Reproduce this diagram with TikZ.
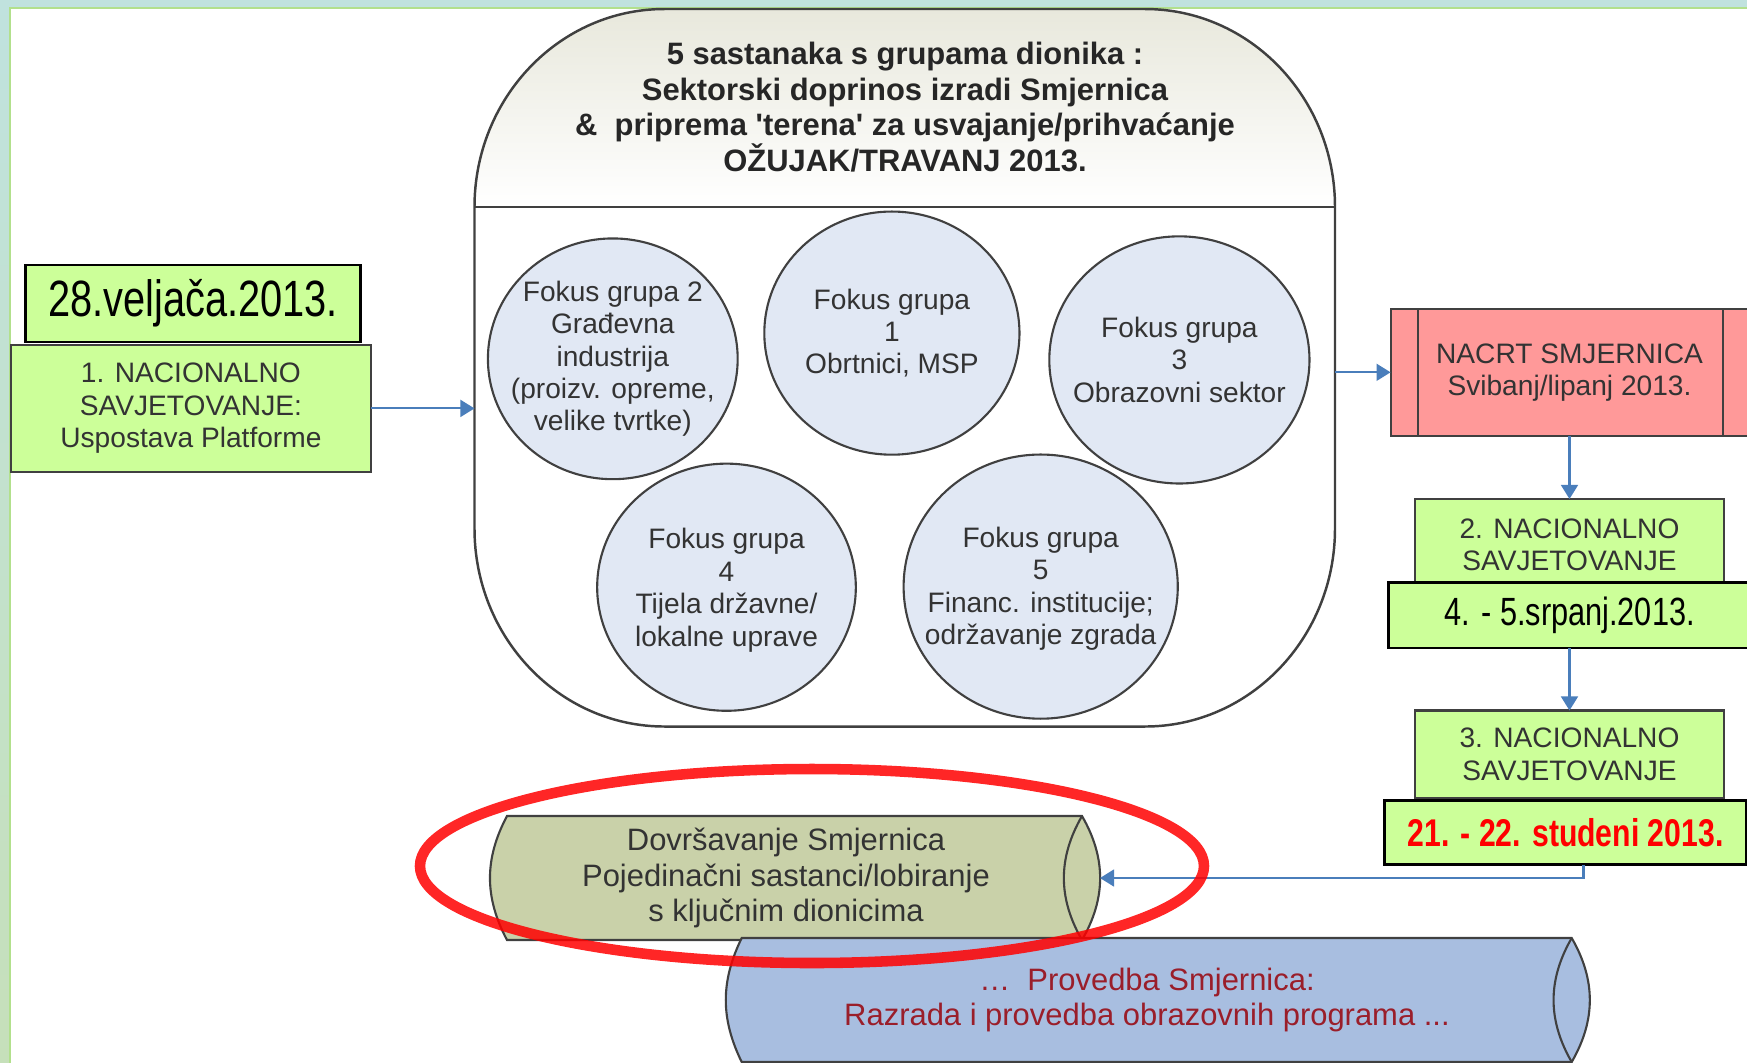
\documentclass[tikz,border=0pt]{standalone}
\usepackage{fontspec}
\setmainfont{Liberation Sans}
\newfontfamily\narrowfont[FakeStretch=0.78]{Liberation Sans}
\usepackage{tikz}
\usepackage{xcolor}
\usetikzlibrary{shapes.geometric,arrows.meta}

\definecolor{limebox}{HTML}{CCFF99}
\definecolor{nacrtred}{HTML}{FF9999}
\definecolor{fokusblue}{HTML}{E1E8F4}
\definecolor{olivecyl}{HTML}{C9D1A9}
\definecolor{bluecyl}{HTML}{A8BEE0}
\definecolor{darkwine}{HTML}{9A1E2A}
\definecolor{flowblue}{HTML}{4A7EBB}
\definecolor{hdrgrey}{HTML}{E8E8DC}
\definecolor{frameteal}{HTML}{C0E2DE}
\definecolor{framegreen}{HTML}{C6E0BA}
\definecolor{frameline}{HTML}{B2E08C}
\definecolor{edgegrey}{HTML}{404040}
\definecolor{txtgrey}{HTML}{333333}

\tikzstyle{fokus} = [ellipse, draw=edgegrey, line width=0.6pt, fill=fokusblue, inner sep=0pt]
\tikzstyle{ftext} = [align=center, text=txtgrey, font=\fontsize{8}{9.2}\selectfont]
\tikzstyle{nacbox} = [rectangle, draw=edgegrey, line width=0.6pt, align=center, text=txtgrey, font=\fontsize{8}{9.2}\selectfont]
\tikzstyle{datebox} = [rectangle, draw=black, line width=0.8pt, fill=limebox, align=center]
\tikzstyle{cyltext} = [align=center, text=txtgrey, font=\fontsize{8.8}{10.1}\selectfont]
\tikzstyle{flow} = [draw=flowblue, line width=0.6pt, -{Triangle[length=4pt,width=4.8pt]}]

\begin{document}
\begin{tikzpicture}[x=0.01cm, y=0.01cm]
\tikzset{every node/.append style={outer sep=0pt}}
\useasboundingbox (0,0) rectangle (1747,-1062);
\clip (0,0) rectangle (1747,-1062);

% slide frame
\shade[top color=frameteal, bottom color=framegreen] (0,0) rectangle (1747,-1062);
\fill[frameteal] (0,0) rectangle (1747,-8);
\fill[white] (10,-8) rectangle (1760,-1080);
\draw[frameline, line width=0.4pt] (10,-1080) -- (10,-8) -- (1760,-8);

% big rounded container with header
\fill[white] (474.5,-207) arc[start angle=180, end angle=90, x radius=190, y radius=198]
  -- (1145,-9) arc[start angle=90, end angle=0, x radius=190, y radius=198]
  -- (1335,-528.5) arc[start angle=0, end angle=-90, x radius=190, y radius=198]
  -- (664.5,-726.5) arc[start angle=270, end angle=180, x radius=190, y radius=198] -- cycle;
\shade[top color=hdrgrey, bottom color=white] (474.5,-207) arc[start angle=180, end angle=90, x radius=190, y radius=198]
  -- (1145,-9) arc[start angle=90, end angle=0, x radius=190, y radius=198] -- cycle;
\draw[edgegrey, line width=0.7pt] (474.5,-207) arc[start angle=180, end angle=90, x radius=190, y radius=198]
  -- (1145,-9) arc[start angle=90, end angle=0, x radius=190, y radius=198]
  -- (1335,-528.5) arc[start angle=0, end angle=-90, x radius=190, y radius=198]
  -- (664.5,-726.5) arc[start angle=270, end angle=180, x radius=190, y radius=198] -- cycle;
\draw[edgegrey, line width=0.7pt] (474.5,-207) -- (1335,-207);
\coordinate (inL) at (474.5,-408);
\coordinate (inR) at (1335,-372);

\node[align=center, text=black!85, font=\fontsize{8.8}{10.1}\selectfont\bfseries] (hdr) at (905,-107)
  {5 sastanaka s grupama dionika :\\Sektorski doprinos izradi Smjernica\\\&~~priprema \textquotesingle terena\textquotesingle\ za usvajanje/prihvaćanje\\OŽUJAK/TRAVANJ 2013.};

% focus groups
\node[fokus, minimum width=2.496cm, minimum height=2.406cm] (fg2) at (612.8,-358.8) {};
\node[fokus, minimum width=2.55cm, minimum height=2.43cm] (fg1) at (891.9,-333.1) {};
\node[fokus, minimum width=2.60cm, minimum height=2.47cm] (fg3) at (1179.4,-359.9) {};
\node[fokus, minimum width=2.585cm, minimum height=2.47cm] (fg4) at (726.5,-587.2) {};
\node[fokus, minimum width=2.74cm, minimum height=2.64cm] (fg5) at (1040.7,-586.6) {};
\node[ftext] (fg2t) at (fg2) {Fokus grupa 2\\Građevna\\industrija\\(proizv. opreme,\\velike tvrtke)};
\node[ftext] (fg1t) at (fg1) {Fokus grupa\\1\\Obrtnici, MSP};
\node[ftext] (fg3t) at (fg3) {Fokus grupa\\3\\Obrazovni sektor};
\node[ftext] (fg4t) at ([yshift=-0.03cm]fg4) {Fokus grupa\\4\\Tijela državne/\\lokalne uprave};
\node[ftext] (fg5t) at ([yshift=-0.02cm]fg5) {Fokus grupa\\5\\Financ. institucije;\\održavanje zgrada};

% national consultations
\node[nacbox, fill=limebox, minimum width=3.603cm, minimum height=1.267cm] (nac1) at (190.9,-408.4)
  {1. NACIONALNO\\SAVJETOVANJE:\\Uspostava Platforme};
\node[datebox, minimum width=3.34cm, minimum height=0.77cm] (d1) at (193,-303.5)
  {\narrowfont\fontsize{14.5}{16}\selectfont 28.veljača.2013.};

\node[nacbox, fill=nacrtred, minimum width=3.576cm, minimum height=1.273cm] (nacrt) at (1569.5,-372.3)
  {NACRT SMJERNICA\\Svibanj/lipanj 2013.};
\draw[edgegrey, line width=0.6pt] ([xshift=0.276cm]nacrt.north west) -- ([xshift=0.276cm]nacrt.south west);
\draw[edgegrey, line width=0.6pt] ([xshift=-0.256cm]nacrt.north east) -- ([xshift=-0.256cm]nacrt.south east);

\node[nacbox, fill=limebox, minimum width=3.09cm, minimum height=0.91cm] (nac2) at (1569.5,-544.5)
  {2. NACIONALNO\\SAVJETOVANJE};
\node[datebox, minimum width=3.617cm, minimum height=0.657cm] (d2) at (1569.5,-615.2)
  {\narrowfont\fontsize{11.2}{13}\selectfont 4. - 5.srpanj.2013.};

\node[nacbox, fill=limebox, minimum width=3.09cm, minimum height=0.876cm] (nac3) at (1569.5,-754.3)
  {3. NACIONALNO\\SAVJETOVANJE};
\node[datebox, minimum width=3.61cm, minimum height=0.643cm] (d3) at (1565.5,-832.7)
  {\narrowfont\bfseries\fontsize{11}{13}\selectfont\color{red}21. - 22. studeni 2013.};

% cylinders
\draw[edgegrey, line width=0.6pt, fill=olivecyl] (507,-816) -- (1082,-816) to[bend left=30] (1082,-940)
  -- (507,-940) to[bend left=28] (507,-816) -- cycle;
\draw[edgegrey, line width=0.6pt] (1082,-816) to[bend right=30] (1082,-940);
\coordinate (dovE) at (1100,-878);
\node[cyltext] (dov) at (786,-878) {Dovršavanje Smjernica\\Pojedinačni sastanci/lobiranje\\s ključnim dionicima};

\draw[edgegrey, line width=0.6pt, fill=bluecyl] (741.7,-938) -- (1571.7,-938) to[bend left=30] (1571.7,-1062)
  -- (741.7,-1062) to[bend left=26] (741.7,-938) -- cycle;
\draw[edgegrey, line width=0.6pt] (1571.7,-938) to[bend right=30] (1571.7,-1062);
\node[cyltext, text=darkwine] (prov) at (1147,-1000) {…~~Provedba Smjernica:\\Razrada i provedba obrazovnih programa ...};

% arrows
\draw[flow] (nac1.east) -- (nac1.east -| inL);
\draw[flow] (nacrt.west -| inR) -- (nacrt.west);
\foreach \from/\to in {nacrt.south/nac2.north, d2.south/nac3.north}
{
	\draw[flow] (\from) -- (\to);
}
\draw[flow] ([xshift=0.18cm]d3.south) |- (dovE);

% highlight
\draw[red, opacity=0.85, line width=3pt] (812,-866) ellipse[x radius=392, y radius=97];
\end{tikzpicture}
\end{document}
